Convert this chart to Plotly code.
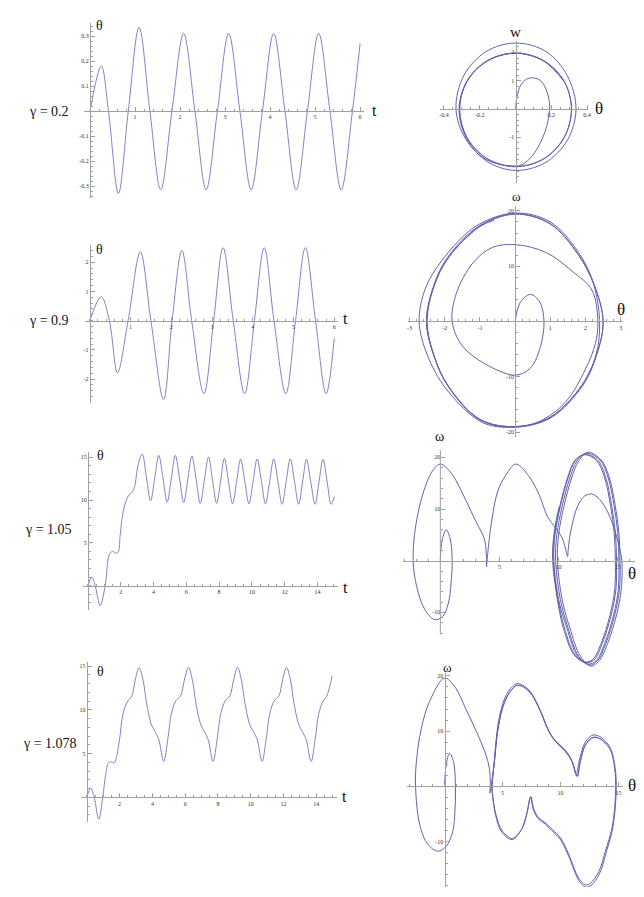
import plotly.graph_objects as go

W, H = 644, 897

# ---------------- DATA ----------------
# gamma = 0.2 : theta(t)
t_g1 = [0, 0.25, 0.41, 0.63, 0.85, 1.09, 1.33, 1.57, 1.82, 2.08, 2.33, 2.58, 2.83, 3.08, 3.33,
        3.58, 3.83, 4.08, 4.33, 4.58, 4.83, 5.08, 5.33, 5.58, 5.83, 6.0]
th_g1 = [0, 0.18, 0.0, -0.33, 0.0, 0.335, 0.0, -0.315, 0.0, 0.31, 0.0, -0.315, 0.0, 0.31, 0.0,
         -0.315, 0.0, 0.31, 0.0, -0.315, 0.0, 0.31, 0.0, -0.315, 0.0, 0.27]

# gamma = 0.9
t_g2 = [0, 0.28, 0.48, 0.68, 0.94, 1.24, 1.5, 1.81, 2.02, 2.26, 2.5, 2.8, 3.04, 3.27, 3.52,
        3.8, 4.04, 4.28, 4.52, 4.81, 5.05, 5.29, 5.54, 5.8, 6.0]
th_g2 = [0, 0.82, 0.0, -1.78, 0.0, 2.35, 0.0, -2.7, 0.0, 2.4, 0.0, -2.5, 0.0, 2.5, 0.0,
         -2.5, 0.0, 2.5, 0.0, -2.5, 0.0, 2.5, 0.0, -2.5, -0.6]

# gamma = 1.05
t_g3 = [0, 0.24, 0.44, 0.745, 1.05, 1.3, 1.49, 1.7, 1.84, 1.97, 2.1, 2.26, 2.46, 2.7, 2.85, 3.05, 3.31,
        3.57, 3.82, 4.07, 4.32, 4.58, 4.83, 5.08, 5.33, 5.59, 5.84, 6.09, 6.34,
        6.6, 6.85, 7.1, 7.35, 7.6, 7.85, 8.09, 8.32, 8.57, 8.82, 9.07, 9.31,
        9.57, 9.82, 10.07, 10.32, 10.58, 10.83, 11.08, 11.33, 11.59, 11.84, 12.09, 12.34,
        12.6, 12.85, 13.09, 13.33, 13.59, 13.85, 14.09, 14.34, 14.59, 14.83, 15.03]
th_g3 = [0, 1.0, 0.0, -2.3, 0.0, 3.6, 4.0, 3.8, 3.9, 6.0, 8.1, 9.5, 10.45, 10.95, 11.6, 14.0, 15.35,
         12.6, 9.9, 12.5, 15.2, 12.5, 9.75, 12.45, 15.2, 12.45, 9.7, 12.4, 15.15,
         12.4, 9.6, 12.3, 15.0, 12.3, 9.6, 12.2, 14.85, 12.2, 9.55, 12.15, 14.75,
         12.15, 9.55, 12.15, 14.8, 12.15, 9.55, 12.15, 14.8, 12.15, 9.5, 12.15, 14.8,
         12.15, 9.5, 12.1, 14.75, 12.1, 9.5, 12.1, 14.75, 12.1, 9.5, 10.4]

# gamma = 1.078
t_g4 = [0, 0.24, 0.45, 0.73, 0.97, 1.15, 1.32, 1.5, 1.67, 1.98, 2.2, 2.5, 2.75, 2.95, 3.19,
        3.44, 3.64, 3.94, 4.19, 4.39, 4.69, 4.95, 5.15, 5.42, 5.72, 5.95, 6.2,
        6.45, 6.65, 6.95, 7.2, 7.4, 7.7, 7.96, 8.16, 8.43, 8.73, 8.95, 9.19,
        9.44, 9.64, 9.94, 10.19, 10.39, 10.69, 10.95, 11.15, 11.42, 11.72, 11.94, 12.18,
        12.43, 12.63, 12.93, 13.18, 13.38, 13.68, 13.94, 14.14, 14.41, 14.62, 14.97]
th_g4 = [0, 1.05, 0.0, -2.5, 0.0, 2.6, 3.95, 4.05, 3.95, 6.4, 9.5, 11.0, 11.6, 13.4, 14.8,
         13.3, 10.8, 8.3, 7.4, 6.6, 4.1, 6.8, 9.5, 11.0, 11.6, 13.4, 14.85,
         13.3, 10.8, 8.3, 7.4, 6.6, 4.1, 6.8, 9.5, 11.0, 11.6, 13.4, 14.85,
         13.3, 10.8, 8.3, 7.4, 6.6, 4.1, 6.8, 9.5, 11.0, 11.6, 13.4, 14.85,
         13.3, 10.8, 8.3, 7.4, 6.6, 4.1, 6.8, 9.5, 11.0, 11.5, 13.9]

# phase portrait gamma = 0.2 (theta, w)
ph1_th = [0, 0.01, 0.03, 0.06, 0.1, 0.14, 0.17, 0.19, 0.185, 0.165, 0.13, 0.08, 0.02,
          -0.16, -0.28, -0.333,
          -0.29, -0.167, 0, 0.17, 0.29, 0.338,
          0.29, 0.165, 0, -0.16, -0.275, -0.316,
          -0.271, -0.157, 0, 0.157, 0.271, 0.313,
          0.271, 0.157, 0, -0.157, -0.271, -0.313,
          -0.271, -0.157, 0, 0.157, 0.271, 0.312,
          0.27, 0.156, 0, -0.156, -0.27, -0.312,
          -0.27, -0.156, 0, 0.156, 0.27]
ph1_w = [0, 0.5, 0.85, 1.05, 1.1, 1.0, 0.7, 0.2, -0.3, -0.8, -1.3, -1.75, -2.0,
         -1.8, -1.05, 0,
         1.17, 2.02, 2.33, 2.03, 1.17, 0,
         -1.1, -1.9, -2.17, -1.85, -1.03, 0,
         0.99, 1.71, 1.98, 1.71, 0.99, 0,
         -1.02, -1.77, -2.04, -1.77, -1.02, 0,
         0.99, 1.71, 1.97, 1.7, 0.98, 0,
         -1.02, -1.76, -2.03, -1.76, -1.02, 0,
         0.98, 1.7, 1.97, 1.7, 0.98]

# phase portrait gamma = 0.9
ph2_th = [0, 0.15, 0.44, 0.7, 0.82, 0.72, 0.45, 0.02, -0.73, -1.49, -1.79, -1.67, -1.2, -0.64, 0, 0.87, 1.62, 2.18, 2.35,
          2.28, 2.0, 1.43, 0.68, 0, -0.92, -1.96, -2.5, -2.73,
          -2.55, -2.05, -1.1, 0, 1.0, 1.8, 2.22, 2.4,
          2.3, 1.9, 1.0, 0, -1.0, -1.9, -2.3, -2.52,
          -2.3, -1.9, -1.0, 0, 1.0, 1.8, 2.25, 2.5,
          2.32, 1.92, 1.02, 0, -1.0, -1.9, -2.3, -2.52,
          -2.31, -1.92, -1.02, 0, 1.0, 1.8, 2.25, 2.5,
          2.31, 1.9, 1.0, 0, -1.0, -1.9, -2.3, -2.5,
          -2.3, -1.9, -1.0, -0.6]
ph2_w = [0, 3.5, 4.9, 3.5, 0, -4.5, -8.3, -9.7, -8.1, -4.5, 0, 5.1, 10.6, 13.4, 13.9, 12.5, 9.1, 5.7, 0,
         -4.0, -8.6, -14.6, -18.1, -19.1, -18.3, -12.2, -6.0, 0,
         6.0, 11.3, 17.3, 19.6, 18.0, 12.5, 7.0, 0,
         -6.0, -11.5, -17.3, -19.0, -17.7, -11.7, -6.3, 0,
         6.5, 11.5, 17.2, 19.4, 17.6, 12.0, 6.5, 0,
         -6.0, -11.6, -17.4, -19.1, -17.8, -11.8, -6.4, 0,
         6.6, 11.6, 17.3, 19.5, 17.7, 12.1, 6.6, 0,
         -6.0, -11.5, -17.3, -19.0, -17.7, -11.7, -6.3, 0,
         6.5, 11.5, 17.2, 18.3]

# phase portrait gamma = 1.05
ph3_th = [0, 0.15, 0.5, 0.85, 1.0, 0.9, 0.7, 0.2, -0.48, -1.3, -2.0, -2.3, -2.1, -1.4, -0.6, 0, 0.9, 2.2, 3.0, 3.7,
          3.88, 3.9, 3.98, 4.3, 4.85, 5.55, 6.4, 7.5, 8.35, 9.05, 9.75, 10.3, 10.67, 10.75,
          10.85, 11.1, 11.6, 12.2, 12.8, 13.5, 14.2, 14.8, 15.2, 15.35,
          15.3, 14.9, 14.15, 13.45, 12.75, 11.85, 10.95, 10.3, 9.9,
          10.0, 10.45, 11.1, 11.7, 12.5, 13.6, 14.3, 14.8, 15.1, 15.2,
          15.15, 14.75, 14.0, 13.3, 12.6, 11.7, 10.8, 10.15, 9.75,
          9.85, 10.3, 10.95, 11.55, 12.35, 13.5, 14.2, 14.7, 15.0, 15.1,
          15.05, 14.65, 13.9, 13.2, 12.5, 11.6, 10.7, 10.0, 9.6,
          9.7, 10.15, 10.8, 11.4, 12.2, 13.3, 14.0, 14.5, 14.8, 14.9,
          14.85, 14.45, 13.7, 13.0, 12.3, 11.4, 10.5, 9.95, 9.55,
          9.65, 10.1, 10.75, 11.35, 12.15, 13.2, 13.9, 14.4, 14.7, 14.8,
          14.75, 14.35, 13.6, 12.9, 12.2, 11.3, 10.4, 9.9, 9.5,
          9.6, 10.05]
ph3_w = [0, 4.0, 6.0, 4.0, 0, -4.5, -8.0, -10.8, -11.4, -9.5, -5.0, 0, 6.5, 13.5, 17.6, 18.7, 17.0, 11.5, 7.6, 4.4,
         1.5, -1.2, 0.8, 7.0, 13.4, 16.6, 18.7, 16.3, 12.8, 8.6, 6.3, 4.4, 1.5, 0.8,
         3.0, 6.5, 10.5, 12.5, 12.9, 11.8, 9.2, 5.5, 2.0, 0,
         -5.5, -10.5, -16, -19.3, -20.4, -18.5, -13, -7.5, 0,
         5, 10.5, 16, 19.3, 21.0, 19.5, 16, 10.5, 5.5, 0,
         -5.5, -10.5, -16, -19.3, -20.2, -18.5, -13, -7.5, 0,
         5, 10.5, 16, 19.3, 20.8, 19.5, 16, 10.5, 5.5, 0,
         -5.5, -10.5, -16, -19.3, -20.0, -18.5, -13, -7.5, 0,
         5, 10.5, 16, 19.3, 20.6, 19.5, 16, 10.5, 5.5, 0,
         -5.5, -10.5, -16, -19.2, -19.7, -18.3, -13, -7.5, 0,
         5, 10.5, 16, 19.3, 20.5, 19.4, 16, 10.5, 5.5, 0,
         -5.5, -10.5, -16, -19.1, -19.6, -18.2, -13, -7.5, 0,
         5, 10.5]

# phase portrait gamma = 1.078
ph4_th = [0, 0.14, 0.43, 0.77, 0.94, 0.89, 0.71, 0.14, -0.57, -1.43, -2.14, -2.5, -2.43, -2.0, -1.29, 0, 0.86, 1.86,
          3.0, 3.57, 3.86, 3.94, 3.91, 4.03,
          4.3, 4.57, 5.0, 5.57, 6.29, 7.29, 8.14, 9.0, 9.57, 10.43, 11.0, 11.43, 11.7, 12.14, 12.86, 13.57, 14.29,
          14.66, 14.75, 14.68, 14.43, 13.86, 13.29, 12.57, 12.14, 11.57, 10.71, 10.0, 9.29, 8.71, 8.14, 7.71,
          7.43, 7.14, 6.7, 5.86, 5.0, 4.43, 4.12, 4.1,
          4.28, 4.52, 4.95, 5.5, 6.25, 7.25, 8.1, 8.95, 9.5, 10.35, 10.9, 11.35, 11.65, 12.1, 12.8, 13.55, 14.3,
          14.7, 14.8, 14.73, 14.48, 13.92, 13.35, 12.62, 12.15, 11.55, 10.68, 9.95, 9.25, 8.68, 8.1, 7.68,
          7.4, 7.1, 6.65, 5.82, 4.95, 4.4, 4.1, 4.08,
          4.3, 4.57, 5.0, 5.57, 6.29, 7.29, 8.14, 9.0, 9.57, 10.43, 11.0, 11.43, 11.7, 12.14, 12.86, 13.57, 13.9]
ph4_w = [0, 3.9, 6.0, 4.5, 0, -4.5, -8.1, -10.8, -11.7, -10.5, -6.9, 0, 4.5, 10.5, 15.4, 19.6, 18.1, 13.9,
         8.7, 5.7, 3.3, 0.9, -1.2, 0.3,
         4.5, 9.9, 14.2, 16.9, 18.3, 17.2, 14.2, 9.9, 8.1, 6.3, 4.5, 1.8, 4.5, 7.5, 8.9, 8.4, 6.6,
         3.3, 0, -3.3, -7.5, -11.7, -15.4, -17.5, -17.8, -16.6, -12.3, -9.3, -7.8, -6.6, -5.7, -4.2,
         -1.8, -4.5, -7.5, -9.4, -8.1, -5.1, -0.9, 0,
         4.5, 9.9, 14.5, 17.2, 18.6, 17.5, 14.4, 10.2, 8.4, 6.7, 5.0, 2.3, 5.0, 7.9, 9.3, 8.8, 6.9,
         3.4, 0, -3.4, -7.7, -12.0, -15.8, -17.9, -18.2, -16.9, -12.5, -9.5, -8.0, -6.8, -5.9, -4.4,
         -2.0, -4.7, -7.7, -9.6, -8.3, -5.2, -0.9, 0,
         4.5, 9.9, 14.2, 16.9, 18.3, 17.2, 14.2, 9.9, 8.1, 6.3, 4.5, 1.8, 4.5, 7.5, 8.9, 8.4, 7.6]

# tick values / labels
ts1_xt = [1, 2, 3, 4, 5, 6]
ts1_yt = [-0.3, -0.2, -0.1, 0.1, 0.2, 0.3]
ts1_yl = ["-0.3", "-0.2", "-0.1", "0.1", "0.2", "0.3"]
ts2_xt = [1, 2, 3, 4, 5, 6]
ts2_yt = [-2, -1, 1, 2]
ts3_xt = [2, 4, 6, 8, 10, 12, 14]
ts3_yt = [5, 10, 15]
ph1_xt = [-0.4, -0.2, 0.2, 0.4]
ph1_xl = ["-0.4", "-0.2", "0.2", "0.4"]
ph1_yt = [-1, 1, 2]
ph2_xt = [-3, -2, -1, 1, 2, 3]
ph2_yt = [-20, -10, 10, 20]
ph3_xt = [5, 10, 15]
ph3_yt = [-10, 10, 20]
ph3_yminor = [-14, -12, -8, -6, -4, -2, 2, 4, 6, 8, 12, 14, 16, 18]

gamma_labels = ["γ = 0.2", "γ = 0.9", "γ = 1.05", "γ = 1.078"]

# ---------------- FIGURE ----------------
TS_COL = 'rgb(130,130,200)'
PH_COL = 'rgb(98,98,174)'
AX_COL = '#a0a0a0'
SERIF = 'Liberation Serif, Times New Roman, DejaVu Serif, serif'
TICKFONT = dict(family=SERIF, size=6, color='#333333')

panels = [
    dict(x=t_g1, y=th_g1, xr=[-0.14, 6.08], xpx=[75.2, 356.9], yr=[-0.348, 0.352], ypx=[15, 190],
         xt=ts1_xt, xl=None, xm=0.2, yt=ts1_yt, yl=ts1_yl, ym=0.02, col=TS_COL),
    dict(x=ph1_th, y=ph1_w, xr=[-0.424, 0.406], xpx=[433.4, 582.8], yr=[-2.6, 2.42], ypx=[32.5, 174.6],
         xt=ph1_xt, xl=ph1_xl, xm=0.05, yt=ph1_yt, yl=None, ym=0.2, col=PH_COL),
    dict(x=t_g2, y=th_g2, xr=[-0.11, 6.1], xpx=[76.8, 331.4], yr=[-2.82, 2.6], ypx=[236.7, 395],
         xt=ts2_xt, xl=None, xm=0.2, yt=ts2_yt, yl=None, ym=0.2, col=TS_COL),
    dict(x=ph2_th, y=ph2_w, xr=[-3.04, 3.07], xpx=[401.7, 618.0], yr=[-20.8, 20.9], ypx=[197.9, 428.5],
         xt=ph2_xt, xl=None, xm=0.2, yt=ph2_yt, yl=None, ym=2, col=PH_COL),
    dict(x=t_g3, y=th_g3, xr=[-0.33, 15.26], xpx=[74.0, 331.2], yr=[-2.8, 15.6], ypx=[444.0, 601.7],
         xt=ts3_xt, xl=None, xm=0.5, yt=ts3_yt, yl=None, ym=1, col=TS_COL),
    dict(x=ph3_th, y=ph3_w, xr=[-3.13, 16.47], xpx=[396.8, 630.0], yr=[-20.8, 21.4], ypx=[442.1, 660.2],
         xt=ph3_xt, xl=None, xm=1, yt=ph3_yt, yl=None, ym=ph3_yminor, col=PH_COL, yline=[-14.3, 21.4]),
    dict(x=t_g4, y=th_g4, xr=[-0.34, 15.25], xpx=[72.7, 329.9], yr=[-2.82, 15.46], ypx=[654.0, 814.0],
         xt=ts3_xt, xl=None, xm=0.5, yt=ts3_yt, yl=None, ym=1, col=TS_COL),
    dict(x=ph4_th, y=ph4_w, xr=[-3.22, 15.42], xpx=[400.7, 618.3], yr=[-18.2, 20.5], ypx=[665.1, 879.1],
         xt=ph3_xt, xl=None, xm=1, yt=ph3_yt, yl=None, ym=2, col=PH_COL),
]

fig = go.Figure()
layout = {}
shapes = []
for i, p in enumerate(panels, start=1):
    sx = '' if i == 1 else str(i)
    xdom = [p['xpx'][0] / W, p['xpx'][1] / W]
    ydom = [1 - p['ypx'][1] / H, 1 - p['ypx'][0] / H]
    xpos = ydom[0] + (0 - p['yr'][0]) / (p['yr'][1] - p['yr'][0]) * (ydom[1] - ydom[0])
    ypos = xdom[0] + (0 - p['xr'][0]) / (p['xr'][1] - p['xr'][0]) * (xdom[1] - xdom[0])
    fig.add_trace(go.Scatter(x=p['x'], y=p['y'], mode='lines', xaxis='x' + sx, yaxis='y' + sx,
                             line=dict(color=p['col'], width=1, shape='spline', smoothing=1.0),
                             hoverinfo='skip', showlegend=False))
    xminor = dict(ticks='inside', ticklen=2, tickcolor=AX_COL, dtick=p['xm'], tick0=0)
    if isinstance(p['ym'], list):
        yminor = dict(ticks='inside', ticklen=2, tickcolor=AX_COL, tickmode='array', tickvals=p['ym'])
    else:
        yminor = dict(ticks='inside', ticklen=2, tickcolor=AX_COL, dtick=p['ym'], tick0=0)
    layout['xaxis' + sx] = dict(domain=xdom, range=p['xr'], anchor='free', position=xpos,
                                showline=True, linecolor=AX_COL, linewidth=1, showgrid=False, zeroline=False,
                                tickmode='array', tickvals=p['xt'],
                                ticktext=p['xl'] if p['xl'] else [str(v) for v in p['xt']],
                                ticks='inside', ticklen=4, tickcolor=AX_COL, tickfont=TICKFONT,
                                minor=xminor, fixedrange=True)
    show_yline = 'yline' not in p
    layout['yaxis' + sx] = dict(domain=ydom, range=p['yr'], anchor='free', position=ypos,
                                showline=show_yline, linecolor=AX_COL, linewidth=1, showgrid=False, zeroline=False,
                                tickmode='array', tickvals=p['yt'],
                                ticktext=p['yl'] if p['yl'] else [str(v) for v in p['yt']],
                                ticks='inside', ticklen=4, tickcolor=AX_COL, tickfont=TICKFONT,
                                minor=yminor, fixedrange=True)
    if not show_yline:
        shapes.append(dict(type='line', xref='x' + sx, yref='y' + sx, x0=0, x1=0,
                           y0=p['yline'][0], y1=p['yline'][1], line=dict(color=AX_COL, width=1)))

ann_specs = [
    # text, px, py, size
    (gamma_labels[0], 40, 103, 14), (gamma_labels[1], 40, 312, 14),
    (gamma_labels[2], 40, 521, 14), (gamma_labels[3], 41, 735, 14),
    ("θ", 91, 18, 14), ("t", 368, 102, 16),
    ("θ", 91, 242, 14), ("t", 339, 311, 16),
    ("θ", 92, 447, 14), ("t", 339, 579, 16),
    ("θ", 92, 663, 14), ("t", 338, 788, 16),
    ("w", 510, 24, 15), ("θ", 594, 101, 17),
    ("ω", 511, 189, 13), ("θ", 616, 302, 17),
    ("ω", 433, 428, 14), ("θ", 627, 565, 17),
    ("ω", 441, 659, 13), ("θ", 627, 777, 17),
]
annotations = [dict(text=s, x=px / W, y=1 - py / H, xref='paper', yref='paper', showarrow=False,
                    xanchor='center', yanchor='middle', font=dict(family=SERIF, size=sz, color='#111111'))
               for s, px, py, sz in ann_specs]

fig.update_layout(width=W, height=H, autosize=False, margin=dict(l=0, r=0, t=0, b=0, pad=0),
                  paper_bgcolor='white', plot_bgcolor='white', showlegend=False,
                  annotations=annotations, shapes=shapes, **layout)

fig.write_html("out.html")
